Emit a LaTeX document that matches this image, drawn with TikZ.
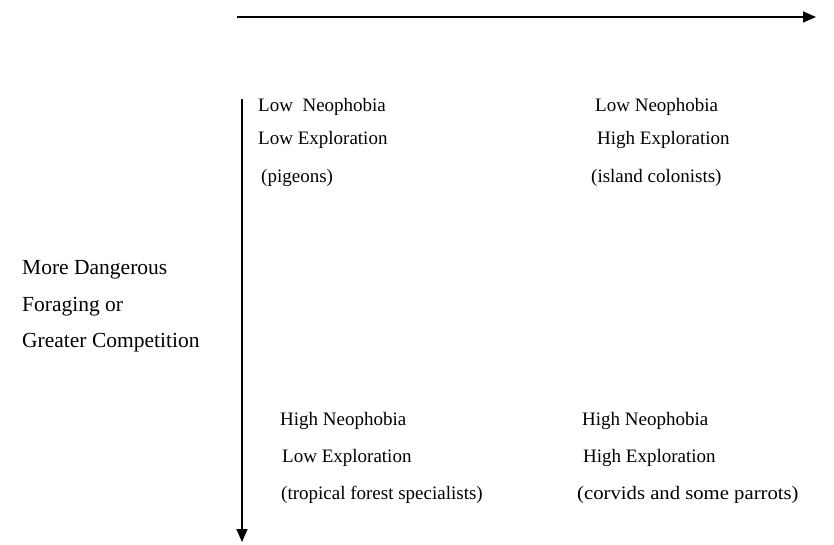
\documentclass[tikz,border=0pt]{standalone}
\usepackage{fontspec}
\setmainfont{Liberation Serif}
\usetikzlibrary{arrows.meta}
\tikzset{
  lbl/.style={anchor=base west, inner sep=0pt, font=\fontsize{19}{22}\selectfont},
  sidelbl/.style={lbl, font=\fontsize{21.5}{24}\selectfont},
  axis/.style={line width=1.4pt, -{Triangle[length=13pt,width=11pt]}}
}
\begin{document}
\begin{tikzpicture}[x=1pt,y=-1pt]
\useasboundingbox (0,0) rectangle (834,545);
\coordinate (hs) at (237,17);
\coordinate (he) at (816,17);
\coordinate (vs) at (242,99);
\coordinate (ve) at (242,542);
\draw[axis] (hs) -- (he);
\draw[axis] (vs) -- (ve);
% top-left
\node[lbl] (tl1) at (258,112) {Low\ \ Neophobia};
\node[lbl] (tl2) at (258,145) {Low Exploration};
\node[lbl] (tl3) at (261,183) {(pigeons)};
% top-right
\node[lbl] (tr1) at (595,112) {Low Neophobia};
\node[lbl] (tr2) at (597,145) {High Exploration};
\node[lbl] (tr3) at (591,183) {(island colonists)};
% left
\node[sidelbl] (l1) at (22,274) {More Dangerous};
\node[sidelbl] (l2) at (22,311) {Foraging or};
\node[sidelbl] (l3) at (22,347) {Greater Competition};
% bottom-left
\node[lbl] (bl1) at (280,425) {High Neophobia};
\node[lbl] (bl2) at (282,462) {Low Exploration};
\node[lbl] (bl3) at (281,499) {(tropical forest specialists)};
% bottom-right
\node[lbl] (br1) at (582,425) {High Neophobia};
\node[lbl] (br2) at (583,462) {High Exploration};
\node[lbl] (br3) at (577,499) {\scalebox{1.09}[1]{(corvids and some parrots)}};
\end{tikzpicture}
\end{document}
